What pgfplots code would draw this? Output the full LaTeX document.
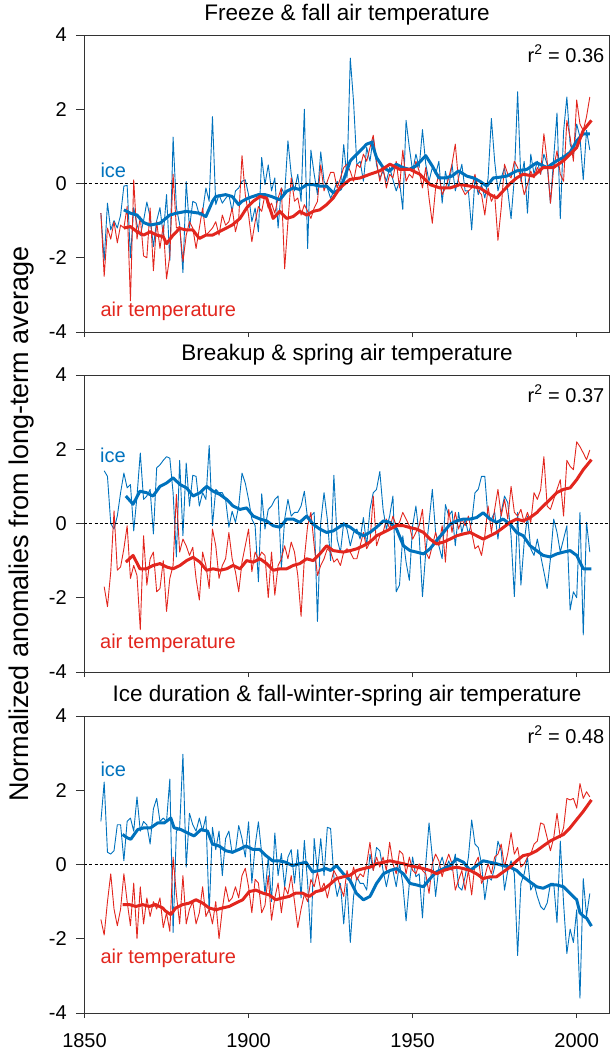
\documentclass[border=0pt]{standalone}
\usepackage{fontspec}
\setmainfont{Liberation Sans}
\usepackage{pgfplots}
\usepackage{pgfplotstable}
\pgfplotsset{compat=1.18}

\definecolor{icecol}{RGB}{0,114,189}
\definecolor{aircol}{RGB}{226,38,30}

% yearly anomalies: year, ice, air temperature
\pgfplotstableread{
year ice air
1855 -0.80 -0.80
1856 -2.07 -2.50
1857 -0.53 -1.20
1858 -1.25 -1.50
1859 -1.00 -1.03
1860 -1.20 -1.60
1861 -0.85 -1.12
1862 -0.07 -1.20
1863 -0.05 -0.62
1864 -2.00 -3.16
1865 -0.65 0.10
1866 -1.10 -1.50
1867 -1.40 -0.90
1868 -1.00 -1.95
1869 -0.50 -2.00
1870 -0.90 -0.66
1871 -1.70 -2.35
1872 -1.00 -1.03
1873 -0.65 -1.75
1874 -1.40 -1.12
1875 -0.30 -2.57
1876 -2.07 -1.95
1877 1.25 0.25
1878 -0.65 -1.20
1879 -1.10 -1.16
1880 -2.40 -2.10
1881 0.05 -1.39
1882 -1.20 -1.03
1883 -0.48 -1.20
1884 -0.53 -1.75
1885 -0.85 -1.20
1886 -0.75 -0.66
1887 -0.12 -1.39
1888 -0.48 -1.30
1889 1.80 -1.20
1890 -0.57 -1.03
1891 -0.30 -1.39
1892 -0.53 -0.85
1893 -0.40 -1.12
1894 -0.30 -1.03
1895 -0.75 -0.66
1896 -0.20 -1.30
1897 -0.12 -0.94
1898 0.06 0.75
1899 0.10 -0.30
1900 -0.30 -0.85
1901 -1.03 -1.57
1902 -0.66 -1.03
1903 -1.30 -0.62
1904 0.70 -0.75
1905 -0.03 -0.30
1906 0.50 -0.66
1907 -0.20 -0.53
1908 0.15 -0.80
1909 -1.20 -0.39
1910 -0.12 -0.12
1911 -0.30 -2.30
1912 1.15 -1.03
1913 0.25 0.15
1914 -0.20 -0.48
1915 0.25 -0.39
1916 -0.48 -0.85
1917 2.00 -0.57
1918 -1.75 -0.75
1919 0.90 -0.94
1920 0.25 -0.66
1921 -0.30 -0.48
1922 0.85 0.50
1923 0.06 -0.20
1924 -0.12 0.06
1925 -0.40 0.30
1926 -0.20 0.30
1927 0.06 -0.12
1928 -0.12 0.15
1929 1.05 0.43
1930 0.15 0.52
1931 3.38 0.33
1932 2.20 0.06
1933 0.50 0.52
1934 0.60 0.43
1935 0.06 0.79
1936 0.97 0.60
1937 0.60 0.97
1938 1.25 1.30
1939 0.50 0.60
1940 0.15 0.06
1941 0.33 0.43
1942 0.06 -0.12
1943 0.43 0.25
1944 0.10 0.15
1945 -0.20 0.60
1946 0.06 -0.12
1947 -0.70 0.90
1948 1.70 0.06
1949 0.97 0.25
1950 0.33 0.15
1951 0.79 0.60
1952 0.43 0.33
1953 1.45 -0.12
1954 0.52 0.43
1955 0.06 -0.39
1956 0.43 -1.07
1957 0.25 -0.12
1958 0.60 0.25
1959 -0.53 -0.30
1960 0.33 -0.12
1961 -0.12 0.15
1962 0.52 0.52
1963 -0.20 1.06
1964 0.15 0.06
1965 0.52 -0.12
1966 -0.20 -0.30
1967 -0.20 -0.20
1968 -1.25 -0.12
1969 0.15 0.25
1970 -0.30 -0.20
1971 -0.03 -0.30
1972 -0.39 -0.85
1973 0.15 -0.12
1974 1.75 -0.48
1975 0.60 -0.30
1976 -0.20 -1.53
1977 0.15 -0.66
1978 0.43 0.52
1979 -0.20 0.25
1980 -0.95 0.15
1981 0.15 0.60
1982 2.47 0.43
1983 0.06 0.15
1984 0.60 -0.30
1985 -0.80 -0.03
1986 0.79 0.33
1987 0.25 0.15
1988 0.60 0.43
1989 0.25 0.25
1990 0.79 1.34
1991 0.52 0.60
1992 -0.53 -0.53
1993 0.70 0.43
1994 1.90 0.88
1995 -0.95 0.25
1996 1.40 0.06
1997 2.33 1.70
1998 1.06 1.24
1999 0.79 0.60
2000 1.60 2.25
2001 1.25 1.60
2002 0.10 1.43
2003 1.43 1.80
2004 0.90 2.33
}\freeze

\pgfplotstableread{
year ice air
1856 1.42 -1.70
1857 1.27 -2.24
1858 0.00 -1.30
1859 -0.15 0.34
1860 0.20 -1.26
1861 0.83 -1.17
1862 1.36 -0.68
1863 0.96 -0.06
1864 1.05 -1.48
1865 -0.20 -1.13
1866 0.74 -1.40
1867 1.90 -2.86
1868 0.65 -0.33
1869 0.74 -1.66
1870 0.92 -0.95
1871 -0.28 -0.77
1872 1.50 -1.84
1873 1.58 -1.75
1874 1.70 -1.00
1875 1.80 -2.37
1876 1.76 -1.48
1877 0.83 -1.13
1878 -0.90 0.78
1879 1.70 -0.77
1880 -0.33 -0.42
1881 1.63 -0.60
1882 0.47 -0.86
1883 1.30 -0.64
1884 1.27 -1.48
1885 0.47 -2.06
1886 0.83 -0.77
1887 0.65 -1.13
1888 2.10 -1.75
1889 -0.06 -0.15
1890 0.92 -0.60
1891 0.83 -1.48
1892 0.83 -1.13
1893 0.65 -0.95
1894 -0.10 -0.24
1895 0.33 -0.95
1896 0.03 -1.30
1897 0.47 -1.84
1898 1.36 -1.04
1899 1.09 -0.60
1900 0.65 -0.15
1901 0.12 -1.30
1902 -0.06 -0.77
1903 -1.57 -0.95
1904 0.80 -0.77
1905 -0.15 -0.86
1906 0.38 -2.00
1907 0.47 -0.77
1908 0.65 -1.93
1909 0.74 -1.13
1910 -1.20 -0.95
1911 0.12 -0.60
1912 0.65 -0.95
1913 0.20 -0.50
1914 0.30 -0.77
1915 0.30 -1.40
1916 0.47 -2.50
1917 0.87 -0.95
1918 0.12 -0.06
1919 0.20 0.30
1920 0.30 -0.60
1921 -2.64 -1.40
1922 0.03 -1.13
1923 0.83 -0.95
1924 0.12 -0.68
1925 -1.00 -0.77
1926 1.30 -1.04
1927 -0.42 -0.95
1928 -0.78 -1.13
1929 0.03 -0.77
1930 -0.15 -0.68
1931 -0.60 -0.77
1932 -0.24 -0.95
1933 -0.15 -0.95
1934 -0.42 -0.60
1935 0.16 -0.24
1936 -0.60 -0.68
1937 0.38 -0.50
1938 0.83 0.74
1939 0.92 -0.60
1940 1.40 -0.33
1941 0.38 -0.24
1942 -0.15 0.12
1943 0.20 -0.15
1944 0.74 0.20
1945 -1.84 -0.06
1946 -1.66 0.03
1947 -0.33 0.30
1948 -1.04 0.12
1949 -1.53 -0.06
1950 -0.06 -0.42
1951 0.47 -0.24
1952 -0.33 -0.06
1953 -1.97 0.38
1954 -0.77 -0.77
1955 0.03 -0.95
1956 0.92 -0.60
1957 -0.24 -0.24
1958 -0.60 -0.60
1959 -0.95 -0.06
1960 0.51 -1.04
1961 0.20 0.38
1962 0.34 -0.24
1963 -0.60 0.30
1964 0.30 -0.15
1965 -0.24 0.12
1966 0.12 -0.06
1967 -0.28 0.20
1968 0.03 -0.24
1969 0.83 -0.68
1970 0.92 -0.60
1971 1.27 -0.86
1972 1.27 -0.33
1973 0.12 0.47
1974 0.12 -0.24
1975 0.30 0.38
1976 -0.42 0.92
1977 0.30 0.20
1978 0.74 0.65
1979 0.56 0.12
1980 -0.33 1.00
1981 -1.97 0.30
1982 0.30 0.20
1983 -1.66 0.38
1984 -0.50 0.03
1985 0.20 0.30
1986 -0.68 0.03
1987 -0.86 0.83
1988 -0.42 0.65
1989 -0.86 0.90
1990 -1.30 1.80
1991 -1.75 0.47
1992 -0.95 0.38
1993 0.12 0.65
1994 -0.24 0.92
1995 -0.77 1.18
1996 -0.42 0.20
1997 -0.06 1.70
1998 -2.33 1.54
1999 -1.84 1.45
2000 -2.00 2.20
2001 0.30 2.07
2002 -3.00 1.90
2003 0.03 1.72
2004 -0.77 1.98
}\breakup

\pgfplotstableread{
year ice air
1855 1.16 -1.48
1856 2.22 -1.90
1857 0.33 -1.00
1858 0.28 -0.25
1859 0.37 -1.20
1860 1.07 -1.65
1861 1.07 -1.20
1862 0.10 -0.25
1863 1.16 -1.00
1864 1.25 -1.65
1865 0.90 -0.50
1866 1.82 -2.00
1867 0.90 -0.60
1868 1.16 -1.60
1869 1.07 -0.90
1870 0.55 -1.40
1871 1.50 -1.00
1872 1.78 -1.20
1873 1.16 -0.90
1874 1.25 -1.70
1875 1.16 -1.30
1876 2.30 -1.80
1877 -1.83 0.20
1878 0.90 -0.80
1879 0.99 -1.60
1880 2.97 -0.30
1881 -0.07 -1.60
1882 1.38 -1.20
1883 1.07 -1.00
1884 0.90 -1.60
1885 1.25 -1.30
1886 0.90 -0.60
1887 1.30 -1.40
1888 -1.30 -1.20
1889 1.00 -1.60
1890 0.40 -1.00
1891 0.90 -2.00
1892 -0.30 -1.20
1893 0.70 -0.60
1894 0.90 -1.00
1895 0.30 -0.90
1896 0.35 -0.60
1897 1.05 -0.90
1898 0.70 -0.30
1899 0.20 -0.10
1900 1.15 -0.60
1901 -0.50 -1.30
1902 0.50 -0.40
1903 1.15 -0.50
1904 0.30 -1.30
1905 -0.80 -1.10
1906 0.20 -0.30
1907 -1.00 -1.50
1908 0.85 -0.90
1909 -0.30 -0.50
1910 0.30 -1.30
1911 -0.60 -0.60
1912 0.20 -0.80
1913 0.40 -0.30
1914 -0.50 -1.00
1915 0.40 -1.70
1916 -0.90 -1.20
1917 0.65 -0.80
1918 -0.50 -1.00
1919 -2.10 -0.40
1920 0.70 -0.60
1921 -0.20 -0.20
1922 0.70 -0.70
1923 -0.30 -0.50
1924 1.00 -0.90
1925 0.97 -0.51
1926 -0.33 -0.16
1927 -0.86 -0.33
1928 -0.51 -0.60
1929 -1.60 -0.86
1930 -0.51 -0.16
1931 -2.10 -0.51
1932 -0.86 -0.07
1933 -0.33 -0.42
1934 -0.51 -0.25
1935 -0.51 -0.33
1936 -0.69 0.02
1937 0.28 0.60
1938 -0.16 -0.16
1939 0.46 0.20
1940 0.37 -0.07
1941 -0.16 0.20
1942 -0.60 -0.16
1943 -0.16 0.60
1944 -0.16 0.02
1945 -0.60 -0.25
1946 0.02 0.37
1947 -0.51 0.28
1948 -1.52 -0.25
1949 -0.51 0.20
1950 0.20 -0.16
1951 -0.33 -0.25
1952 -0.25 0.02
1953 -1.44 -0.16
1954 0.02 -0.25
1955 1.12 -0.78
1956 0.20 0.02
1957 -0.86 0.28
1958 -0.07 0.10
1959 0.20 -0.33
1960 -0.16 0.02
1961 0.10 0.28
1962 -0.16 0.02
1963 0.28 -0.69
1964 -0.60 -0.42
1965 -0.69 -0.16
1966 -0.33 -0.69
1967 0.20 -0.16
1968 1.20 -0.82
1969 0.55 0.02
1970 0.46 0.20
1971 0.02 -0.51
1972 -0.95 -0.33
1973 -0.33 0.02
1974 -0.42 -0.25
1975 -0.07 0.20
1976 0.63 0.28
1977 0.37 0.55
1978 -0.69 -0.07
1979 -0.16 0.30
1980 0.10 0.86
1981 -0.25 0.28
1982 -2.45 0.46
1983 -0.51 -0.07
1984 -0.25 0.02
1985 0.20 0.20
1986 -0.69 0.28
1987 -0.51 0.55
1988 -0.86 0.63
1989 -1.13 1.12
1990 -1.22 1.08
1991 -1.04 0.72
1992 -0.51 0.37
1993 -0.51 0.72
1994 -1.57 1.38
1995 0.63 0.72
1996 -1.04 0.99
1997 -2.40 1.78
1998 -1.74 1.74
1999 -2.10 1.78
2000 -1.22 1.52
2001 -3.60 2.18
2002 -0.38 1.78
2003 -1.39 1.96
2004 -0.78 1.82
}\duration

\pgfplotsset{
  panel/.style={
    scale only axis, width=525pt, height=297pt,
    xmin=1850, xmax=2010, ymin=-4, ymax=4,
    xtick={1850,1900,1950,2000}, ytick={-4,-2,0,2,4},
    tick pos=left, tick align=outside,
    axis line style={black!80, line width=0.8pt},
    every tick/.style={black!80, line width=0.8pt},
    xtick style={/pgfplots/major tick length=5pt},
    ytick style={/pgfplots/major tick length=8.5pt},
    tick label style={font=\fontsize{20}{24}\selectfont},
    yticklabel style={xshift=-10pt},
    xticklabel style={yshift=-13pt},
    /pgf/number format/assume math mode=true,
    /pgf/number format/1000 sep={},
    title style={font=\fontsize{22.5}{27}\selectfont, at={(0.5,1)}, anchor=base, yshift=8.5pt},
    anchor=north west,
  },
}
\tikzset{
  thinline/.style={line width=0.9pt, line join=round},
  thickline/.style={line width=3pt, line join=round},
  zeroline/.style={black, line width=0.6pt, dash pattern=on 3pt off 2pt},
  lab/.style={font=\fontsize{20}{24}\selectfont, anchor=west},
}

\begin{document}
\begin{tikzpicture}

% Freeze
\begin{axis}[panel, at={(84.5pt,-35pt)}, xticklabels={},
    title={Freeze \& fall air temperature}]
\addplot[thinline, icecol] table[x=year, y=ice] {\freeze};
\addplot[thinline, aircol] table[x=year, y=air] {\freeze};
\addplot[thickline, icecol] coordinates {
(1862,-0.71) (1864,-0.8) (1866,-0.85) (1868,-1.05) (1870,-1.12) (1873,-1.07)
(1876,-0.85) (1878,-0.8) (1881,-0.75) (1885,-0.8) (1887,-0.89) (1889,-0.48)
(1890,-0.35) (1893,-0.3) (1895,-0.35) (1897,-0.57) (1898,-0.48) (1900,-0.39)
(1903,-0.3) (1905,-0.3) (1907,-0.35) (1909.5,-0.44) (1911.6,-0.21) (1913.6,-0.12)
(1915.6,-0.16) (1917.7,-0.03) (1919.7,-0.03) (1921.7,-0.07) (1923.8,-0.07)
(1925.8,-0.25) (1928,-0.15) (1931,0.61) (1934,0.88) (1936,1.06) (1937.5,1.11)
(1939,0.7) (1941,0.43) (1943,0.33) (1945,0.52) (1947,0.43) (1949,0.38) (1951,0.47)
(1954,0.75) (1956,0.47) (1958,0.15) (1960,0.15) (1962,0.2) (1964,0.34)
(1966.5,0.2) (1968.5,0.15) (1970.5,0.06) (1972.6,-0.07) (1974.6,0.15)
(1976.6,0.17) (1978.7,0.2) (1981.7,0.34) (1984.8,0.38) (1987.8,0.56)
(1990.9,0.43) (1993.9,0.61) (1995.9,0.7) (1998,0.84) (2000,1.15) (2002,1.34) (2004,1.34)};
\addplot[thickline, aircol] coordinates {
(1862,-1.2) (1864,-1.16) (1866,-1.3) (1868,-1.39) (1870,-1.3) (1872,-1.39)
(1874,-1.43) (1875,-1.62) (1877,-1.39) (1879,-1.21) (1881,-1.25) (1883,-1.25)
(1885,-1.48) (1887,-1.39) (1889,-1.39) (1891,-1.3) (1893,-1.21) (1895,-1.12)
(1897.4,-0.94) (1899.4,-0.66) (1901.4,-0.48) (1903.5,-0.35) (1905.5,-0.39)
(1907.5,-0.94) (1909.5,-0.75) (1911.6,-0.94) (1913.6,-0.89) (1915.6,-0.75)
(1917.7,-0.85) (1919.7,-0.75) (1921.7,-0.71) (1923.8,-0.57) (1925.8,-0.39)
(1927.8,-0.12) (1930.9,0.11) (1934,0.15) (1937,0.25) (1940,0.34) (1943.1,0.52)
(1946.1,0.38) (1949.2,0.38) (1952.2,0.25) (1955.3,-0.03) (1958.3,-0.12)
(1961.4,-0.12) (1964.4,-0.03) (1967.5,-0.07) (1970.5,-0.12) (1973.6,-0.3)
(1975.6,-0.39) (1977.6,-0.2) (1979.7,0) (1981.7,0.15) (1983.7,0.25) (1986.8,0.2)
(1989.8,0.43) (1992.9,0.43) (1995.9,0.61) (1998,0.79) (2000,0.97) (2002,1.43) (2004.5,1.7)};
\addplot[zeroline] coordinates {(1850,0) (2010,0)};
\node[lab, icecol] at (axis cs:1853.8,0.35) {ice};
\node[lab, aircol] at (axis cs:1853.8,-3.44) {air temperature};
\node[lab, anchor=east] at (axis cs:2009.5,3.5) {r\textsuperscript{2} = 0.36};
\end{axis}

% Breakup
\begin{axis}[panel, at={(84.5pt,-375pt)}, xticklabels={},
    title={Breakup \& spring air temperature}]
\addplot[thinline, icecol] table[x=year, y=ice] {\breakup};
\addplot[thinline, aircol] table[x=year, y=air] {\breakup};
\addplot[thickline, icecol] coordinates {
(1862.6,0.74) (1864.8,0.52) (1866.9,0.87) (1868.9,0.83) (1870.9,0.74) (1873,1.0)
(1875,1.09) (1877,1.23) (1879.1,1.05) (1881.1,0.96) (1883.1,0.74) (1885.2,0.83)
(1887.2,1.0) (1889.2,0.87) (1891.3,0.78) (1893.3,0.65) (1895.3,0.47) (1897.4,0.38)
(1899.4,0.42) (1901.4,0.2) (1903.5,0.12) (1905.5,0.07) (1907.5,-0.06) (1909.6,-0.1)
(1911.6,0.12) (1913.6,0.12) (1915.6,0.03) (1917.7,0.2) (1919.7,-0.02) (1921.7,-0.15)
(1923.8,-0.24) (1925.8,-0.2) (1928.9,-0.02) (1931,-0.1) (1933,-0.24) (1935,-0.33)
(1937,-0.24) (1939,-0.1) (1941.1,0.07) (1943.1,0.03) (1945.1,-0.15) (1947.2,-0.6)
(1949.2,-0.73) (1951.2,-0.77) (1953.3,-0.82) (1955.3,-0.68) (1957.3,-0.46)
(1959.4,-0.24) (1961.4,-0.02) (1963.4,0.07) (1965.5,0.12) (1967.5,0.12)
(1969.5,0.16) (1971.5,0.29) (1973.6,0.12) (1975.6,0.03) (1977.6,0.12)
(1979.7,-0.02) (1981.7,-0.24) (1983.7,-0.33) (1985.8,-0.6) (1987.8,-0.73)
(1989.8,-0.86) (1991.9,-0.9) (1993.9,-0.82) (1996,-0.77) (1998,-0.73) (2000,-0.86)
(2002,-1.22) (2004.5,-1.22)};
\addplot[thickline, aircol] coordinates {
(1862.6,-1.04) (1864.8,-0.86) (1866.9,-1.22) (1868.9,-1.22) (1870.9,-1.13)
(1873,-1.08) (1875,-1.17) (1877,-1.22) (1879.1,-1.13) (1881.1,-1.0) (1883.1,-0.91)
(1885.2,-1.04) (1887.2,-1.26) (1889.2,-1.22) (1891.3,-1.26) (1893.3,-1.22)
(1895.3,-1.13) (1897.4,-1.22) (1899.4,-1.0) (1901.4,-1.04) (1903.5,-0.95)
(1905.5,-1.08) (1907.5,-1.26) (1909.6,-1.22) (1911.6,-1.22) (1913.6,-1.13)
(1915.6,-1.08) (1917.7,-0.95) (1919.7,-1.0) (1921.7,-0.82) (1923.8,-0.6)
(1925.8,-0.73) (1928.9,-0.77) (1931,-0.73) (1933,-0.68) (1935,-0.6) (1937,-0.5)
(1939,-0.33) (1941.1,-0.24) (1943.1,-0.15) (1945.1,-0.06) (1947.2,-0.06)
(1949.2,-0.11) (1951.2,-0.15) (1953.3,-0.24) (1955.3,-0.42) (1957.3,-0.55)
(1959.4,-0.5) (1961.4,-0.42) (1963.4,-0.33) (1965.5,-0.28) (1967.5,-0.24)
(1969.5,-0.33) (1971.5,-0.42) (1973.6,-0.33) (1975.6,-0.24) (1977.6,-0.11)
(1979.7,0.03) (1981.7,0.12) (1983.7,0.07) (1985.8,0.16) (1987.8,0.29)
(1989.8,0.47) (1991.9,0.65) (1993.9,0.83) (1996,0.92) (1998,0.96) (2000,1.18)
(2002,1.45) (2004.5,1.72)};
\addplot[zeroline] coordinates {(1850,0) (2010,0)};
\node[lab, icecol] at (axis cs:1853.7,1.83) {ice};
\node[lab, aircol] at (axis cs:1853.7,-3.22) {air temperature};
\node[lab, anchor=east] at (axis cs:2009.5,3.5) {r\textsuperscript{2} = 0.37};
\end{axis}

% Ice duration
\begin{axis}[panel, at={(84.5pt,-716pt)},
    title={Ice duration \& fall-winter-spring air temperature}]
\addplot[thinline, icecol] table[x=year, y=ice] {\duration};
\addplot[thinline, aircol] table[x=year, y=air] {\duration};
\addplot[thickline, icecol] coordinates {
(1861.6,0.81) (1863,0.72) (1864.1,0.68) (1866.2,0.94) (1868.2,0.99) (1870.2,0.99)
(1872.3,1.12) (1874.3,1.12) (1876.3,1.25) (1877.3,0.99) (1879.4,0.94) (1881.4,0.85)
(1883.4,0.77) (1885.5,0.94) (1887.5,0.9) (1889,0.55) (1891,0.5) (1893.1,0.37)
(1895.1,0.33) (1897.2,0.41) (1899.2,0.5) (1901.2,0.41) (1903.3,0.41) (1905.3,0.24)
(1907.3,0.1) (1909.4,0.1) (1911.4,0.06) (1913.4,-0.03) (1915.4,0.02) (1917.5,0.06)
(1919.5,-0.2) (1921.5,-0.16) (1923.6,-0.11) (1925,-0.16) (1926.8,-0.03)
(1928.9,-0.25) (1930.9,-0.42) (1932.9,-0.78) (1935,-0.95) (1937,-0.86) (1939,-0.51)
(1941.1,-0.25) (1943.1,-0.16) (1945.1,-0.11) (1947.2,-0.25) (1949.2,-0.51)
(1951.2,-0.55) (1953.3,-0.6) (1955.3,-0.38) (1957.3,-0.2) (1959.4,-0.11)
(1961.4,-0.03) (1963.4,0.15) (1965.5,0.06) (1967.5,-0.16) (1969.5,-0.03)
(1971.5,0.1) (1973.6,0.06) (1975.6,0.02) (1977.6,-0.03) (1979.7,-0.07)
(1981.7,-0.16) (1983.7,-0.33) (1985.8,-0.47) (1987.8,-0.6) (1989.8,-0.64)
(1991.9,-0.55) (1993.9,-0.55) (1996,-0.6) (1998,-0.78) (2000,-0.95) (2001,-1.3)
(2002,-1.39) (2003,-1.44) (2004.5,-1.66)};
\addplot[thickline, aircol] coordinates {
(1861.6,-1.08) (1863.7,-1.08) (1865.7,-1.13) (1867.7,-1.08) (1869.7,-1.13)
(1871.7,-1.08) (1873.8,-1.17) (1874.8,-1.26) (1876.3,-1.35) (1877.8,-1.17)
(1879.9,-1.08) (1881.9,-1.04) (1884,-0.95) (1886,-1.04) (1888,-1.17) (1890,-1.22)
(1892.1,-1.17) (1894.1,-1.13) (1896.1,-1.04) (1898.2,-0.95) (1900.2,-0.73)
(1902.2,-0.69) (1904.3,-0.77) (1906.3,-0.82) (1908.3,-0.95) (1910.3,-0.9)
(1912.4,-0.86) (1914.4,-0.77) (1916.4,-0.77) (1918.5,-0.86) (1920.5,-0.73)
(1922.5,-0.69) (1924.6,-0.55) (1926.8,-0.38) (1928.9,-0.33) (1930.9,-0.29)
(1933,-0.16) (1935,-0.11) (1937,-0.07) (1939,0.02) (1941.1,0.06) (1943.1,0.1)
(1945.1,0.06) (1947.2,0.02) (1949.2,-0.03) (1951.2,-0.07) (1953.3,-0.11)
(1955.3,-0.16) (1957.3,-0.25) (1959.4,-0.16) (1961.4,-0.11) (1963.4,-0.07)
(1965.5,-0.11) (1967.5,-0.16) (1969.5,-0.25) (1971.5,-0.38) (1973.6,-0.33)
(1975.6,-0.33) (1977.6,-0.2) (1979.7,-0.07) (1981.7,0.1) (1983.7,0.24)
(1985.8,0.28) (1987.8,0.37) (1989.8,0.5) (1991.9,0.63) (1993.9,0.72) (1996,0.81)
(1998,0.99) (2000,1.21) (2002,1.43) (2004.5,1.74)};
\addplot[zeroline] coordinates {(1850,0) (2010,0)};
\node[lab, icecol] at (axis cs:1853.8,2.55) {ice};
\node[lab, aircol] at (axis cs:1853.8,-2.54) {air temperature};
\node[lab, anchor=east] at (axis cs:2009.5,3.5) {r\textsuperscript{2} = 0.48};
\end{axis}

\node[rotate=90, font=\fontsize{27}{32}\selectfont] at (22pt,-524pt)
  {Normalized anomalies from long-term average};

\pgfresetboundingbox
\path[use as bounding box] (0,0) rectangle (614pt,-1054pt);
\end{tikzpicture}
\end{document}
